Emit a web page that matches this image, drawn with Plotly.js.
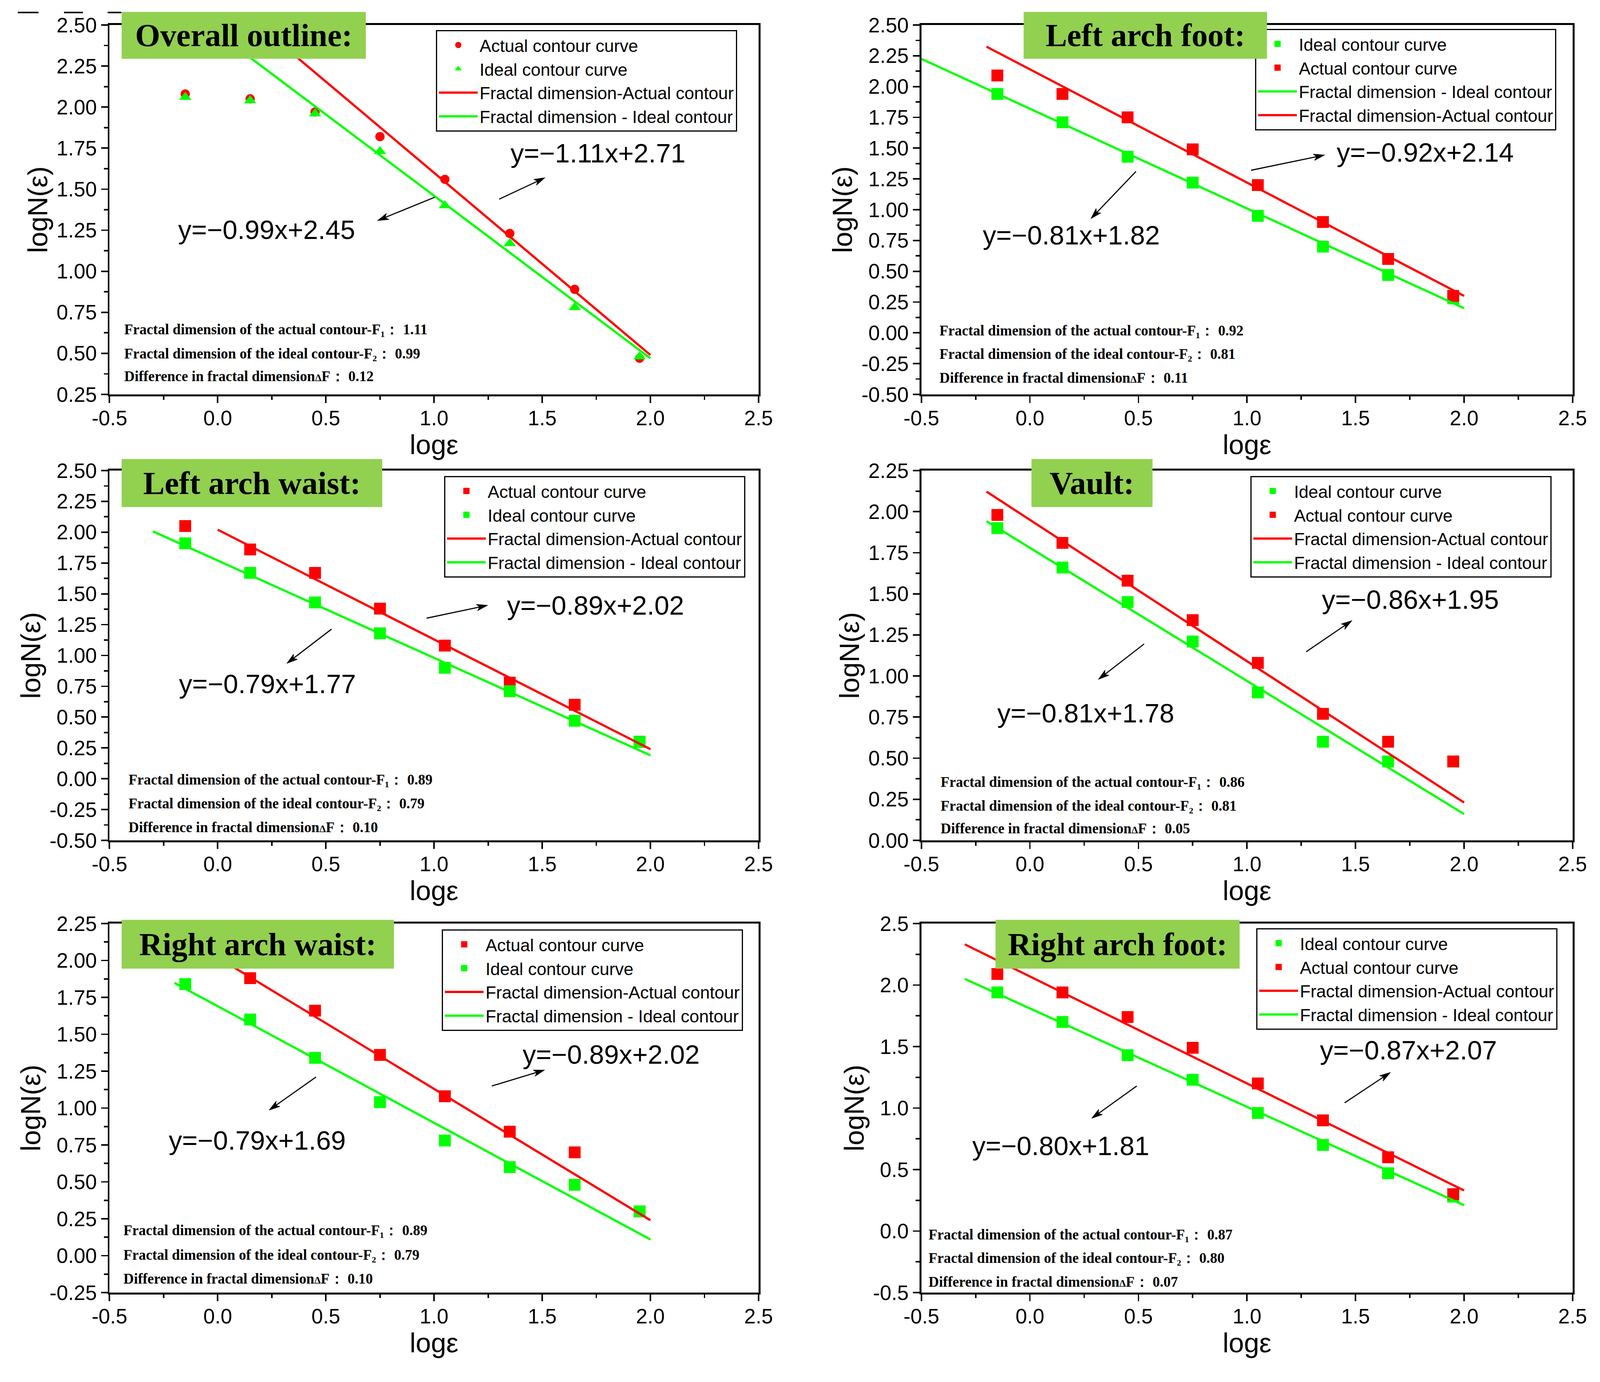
<!DOCTYPE html>
<html><head><meta charset="utf-8">
<script src="https://cdn.plot.ly/plotly-3.0.1.min.js"></script>
<style>html,body{margin:0;padding:0;background:#fff;overflow:hidden}</style>
</head><body>
<div id="chart"></div>
<script>
// ---------------- DATA ----------------
const logEps = [-0.15, 0.15, 0.45, 0.75, 1.05, 1.35, 1.65, 1.95];
const panelTitles = ["Overall outline:", "Left arch foot:", "Left arch waist:", "Vault:", "Right arch waist:", "Right arch foot:"];

const actualOverall    = [2.08, 2.05, 1.97, 1.82, 1.56, 1.23, 0.89, 0.47];
const idealOverall     = [2.06, 2.04, 1.96, 1.73, 1.40, 1.17, 0.78, 0.48];
const actualLeftFoot   = [2.09, 1.94, 1.75, 1.49, 1.20, 0.90, 0.60, 0.30];
const idealLeftFoot    = [1.94, 1.71, 1.43, 1.22, 0.95, 0.70, 0.47, 0.28];
const actualLeftWaist  = [2.05, 1.86, 1.67, 1.38, 1.08, 0.78, 0.60, 0.30];
const idealLeftWaist   = [1.91, 1.67, 1.43, 1.18, 0.90, 0.71, 0.47, 0.30];
const actualVault      = [1.98, 1.81, 1.58, 1.34, 1.08, 0.77, 0.60, 0.48];
const idealVault       = [1.90, 1.66, 1.45, 1.21, 0.90, 0.60, 0.48, 0.48];
const actualRightWaist = [2.10, 1.88, 1.66, 1.36, 1.08, 0.84, 0.70, 0.30];
const idealRightWaist  = [1.84, 1.60, 1.34, 1.04, 0.78, 0.60, 0.48, 0.30];
const actualRightFoot  = [2.09, 1.94, 1.74, 1.49, 1.20, 0.90, 0.60, 0.30];
const idealRightFoot   = [1.94, 1.70, 1.43, 1.23, 0.96, 0.70, 0.47, 0.28];

// fitted lines y = slope*x + intercept
const actualSlope     = [-1.11, -0.92, -0.89, -0.86, -0.89, -0.87];
const actualIntercept = [ 2.71,  2.14,  2.02,  1.95,  2.02,  2.07];
const idealSlope      = [-0.99, -0.81, -0.79, -0.81, -0.79, -0.80];
const idealIntercept  = [ 2.45,  1.82,  1.77,  1.78,  1.69,  1.81];
const actualFitFrom   = [0.19, -0.2, 0.0, -0.2, -0.2, -0.3];
const idealFitFrom    = [-0.05, -0.5, -0.3, -0.2, -0.2, -0.3];
const fitTo           = [2.0, 2.0, 2.0, 2.0, 2.0, 2.0];

const F1 = ["1.11", "0.92", "0.89", "0.86", "0.89", "0.87"];
const F2 = ["0.99", "0.81", "0.79", "0.81", "0.79", "0.80"];
const dF = ["0.12", "0.11", "0.10", "0.05", "0.10", "0.07"];

const xTickVals = [-0.5, 0, 0.5, 1, 1.5, 2, 2.5];
const xTickText = ["-0.5", "0.0", "0.5", "1.0", "1.5", "2.0", "2.5"];
const yTickVals1 = [0.25, 0.5, 0.75, 1, 1.25, 1.5, 1.75, 2, 2.25, 2.5];
const yTickText1 = ["0.25", "0.50", "0.75", "1.00", "1.25", "1.50", "1.75", "2.00", "2.25", "2.50"];
const yTickVals2 = [-0.5, -0.25, 0, 0.25, 0.5, 0.75, 1, 1.25, 1.5, 1.75, 2, 2.25, 2.5];
const yTickText2 = ["-0.50", "-0.25", "0.00", "0.25", "0.50", "0.75", "1.00", "1.25", "1.50", "1.75", "2.00", "2.25", "2.50"];
const yTickVals4 = [0, 0.25, 0.5, 0.75, 1, 1.25, 1.5, 1.75, 2, 2.25];
const yTickText4 = ["0.00", "0.25", "0.50", "0.75", "1.00", "1.25", "1.50", "1.75", "2.00", "2.25"];
const yTickVals5 = [-0.25, 0, 0.25, 0.5, 0.75, 1, 1.25, 1.5, 1.75, 2, 2.25];
const yTickText5 = ["-0.25", "0.00", "0.25", "0.50", "0.75", "1.00", "1.25", "1.50", "1.75", "2.00", "2.25"];
const yTickVals6 = [-0.5, 0, 0.5, 1, 1.5, 2, 2.5];
const yTickText6 = ["-0.5", "0.0", "0.5", "1.0", "1.5", "2.0", "2.5"];

const legendActual = "Actual contour curve";
const legendIdeal = "Ideal contour curve";
const legendFitActual = "Fractal dimension-Actual contour";
const legendFitIdeal = "Fractal dimension - Ideal contour";

// ---------------- BUILD ----------------
const REF_W = 4324, REF_H = 3539;
const W = window.innerWidth || REF_W, H = window.innerHeight || REF_H;
const kx = W / REF_W, ky = H / REF_H, k = Math.min(kx, ky);
document.getElementById("chart").style.width = W + "px";
document.getElementById("chart").style.height = H + "px";
const px = v => v / REF_W;
const py = v => 1 - v / REF_H;
const S = v => Math.max(1, v * k);
const SANS = "Liberation Sans, Arial, sans-serif";
const SERIF = "Liberation Serif, Times New Roman, serif";
const RED = "#FF0000", GREEN = "#00FF00";

const actualSeries = [actualOverall, actualLeftFoot, actualLeftWaist, actualVault, actualRightWaist, actualRightFoot];
const idealSeries = [idealOverall, idealLeftFoot, idealLeftWaist, idealVault, idealRightWaist, idealRightFoot];
const yTicks = [[yTickVals1, yTickText1], [yTickVals2, yTickText2], [yTickVals2, yTickText2], [yTickVals4, yTickText4], [yTickVals5, yTickText5], [yTickVals6, yTickText6]];
const yMinorStep = [0.125, 0.125, 0.125, 0.125, 0.125, 0.25];

const idealFirst = [false, true, false, true, false, true];
const idealLineFirst = [false, true, false, false, false, false];

// layout geometry (pixels in the 4324x3539 reference canvas)
const colX = [[296, 2050], [2490, 4250]];
const rowY = [[64, 1010], [1205, 2152], [2365, 3310]];
const titleBox = [[328, 30, 659, 119], [2766, 30, 657, 119], [328, 1175, 703, 122], [2787, 1175, 326, 122], [328, 2355, 735, 124], [2690, 2355, 659, 124]];
const legendPos = [[1178, 77], [3392, 74], [1200, 1219], [3379, 1219], [1194, 2380], [3395, 2377]];
const infoPos = [[334, 844, 905, 963], [2537, 847, 907, 968], [345, 1997, 2057, 2118], [2540, 2002, 2063, 2121], [331, 3150, 3213, 3274], [2507, 3161, 3221, 3282]];
const eqPos = [[[1616, 392], [720, 588]], [[3852, 390], [2895, 602]], [[1609, 1550], [723, 1751]], [[3811, 1535], [2934, 1826]], [[1652, 2700], [695, 2920]], [[3806, 2689], [2867, 2934]]];
const arrowPos = [
  [[1349, 510, 1473, 455], [1175, 505, 1020, 565]],
  [[3381, 436, 3580, 397], [3070, 439, 2948, 560]],
  [[1153, 1583, 1318, 1550], [896, 1611, 775, 1699]],
  [[3530, 1669, 3654, 1589], [3092, 1649, 2968, 1740]],
  [[1329, 2781, 1472, 2740], [854, 2758, 727, 2843]],
  [[3634, 2824, 3758, 2746], [3072, 2781, 2950, 2864]]
];

const traces = [];
const layout = {
  width: W, height: H, autosize: false,
  margin: {l: 0, r: 0, t: 0, b: 0},
  paper_bgcolor: "#fff", plot_bgcolor: "#fff",
  font: {family: SANS, color: "#000"},
  showlegend: true,
  annotations: [], shapes: []
};

function fmtEq(s, b) {
  const sl = (s < 0 ? "\u2212" : "") + Math.abs(s).toFixed(2);
  return "y=" + sl + "x+" + b.toFixed(2);
}

// arrow drawn as a line plus a filled head (in screen pixels -> paper)
function addArrow(tx, ty, hx, hy) {
  const TX = tx * kx, TY = ty * ky, HX = hx * kx, HY = hy * ky;
  const dx = HX - TX, dy = HY - TY, len = Math.hypot(dx, dy);
  const ux = dx / len, uy = dy / len, nx = -uy, ny = ux;
  const L = 30 * k, Wd = 9 * k;
  const BX = HX - ux * L, BY = HY - uy * L;
  const P = (X, Y) => (X / W).toFixed(5) + "," + (1 - Y / H).toFixed(5);
  layout.shapes.push({type: "line", xref: "paper", yref: "paper",
    x0: TX / W, y0: 1 - TY / H, x1: (HX - ux * L * 0.6) / W, y1: 1 - (HY - uy * L * 0.6) / H,
    line: {color: "#000", width: S(3)}});
  layout.shapes.push({type: "path", xref: "paper", yref: "paper",
    path: "M" + P(HX, HY) + " L" + P(BX + nx * Wd, BY + ny * Wd) + " L" + P(BX + ux * L * 0.25, BY + uy * L * 0.25) + " L" + P(BX - nx * Wd, BY - ny * Wd) + " Z",
    fillcolor: "#000", line: {color: "#000", width: S(1)}});
}

for (let i = 0; i < 6; i++) {
  const sfx = i === 0 ? "" : String(i + 1);
  const xa = "x" + sfx, ya = "y" + sfx, lg = "legend" + sfx;
  const col = i % 2, row = Math.floor(i / 2);
  const sym = i === 0 ? ["circle", "triangle-up"] : ["square", "square"];
  const msz = i === 0 ? [S(25), S(29)] : [S(32), S(32)];

  const tA = {x: logEps, y: actualSeries[i], type: "scatter", mode: "markers", name: legendActual,
    marker: {symbol: sym[0], size: msz[0], color: RED}, xaxis: xa, yaxis: ya, legend: lg, cliponaxis: false};
  const tI = {x: logEps, y: idealSeries[i], type: "scatter", mode: "markers", name: legendIdeal,
    marker: {symbol: sym[1], size: msz[1], color: GREEN}, xaxis: xa, yaxis: ya, legend: lg, cliponaxis: false};
  const axA = [actualFitFrom[i], fitTo[i]];
  const axI = [idealFitFrom[i], fitTo[i]];
  const lA = {x: axA, y: axA.map(v => actualSlope[i] * v + actualIntercept[i]), type: "scatter", mode: "lines",
    name: legendFitActual, line: {color: RED, width: S(6)}, xaxis: xa, yaxis: ya, legend: lg};
  const lI = {x: axI, y: axI.map(v => idealSlope[i] * v + idealIntercept[i]), type: "scatter", mode: "lines",
    name: legendFitIdeal, line: {color: GREEN, width: S(6)}, xaxis: xa, yaxis: ya, legend: lg};

  const markerPair = idealFirst[i] ? [tI, tA] : [tA, tI];
  const linePair = idealLineFirst[i] ? [lI, lA] : [lA, lI];
  traces.push(markerPair[0], markerPair[1], linePair[0], linePair[1]);

  const yr = [yTicks[i][0][0], yTicks[i][0][yTicks[i][0].length - 1]];
  const common = {
    ticks: "outside", ticklen: S(18), tickwidth: S(4), tickcolor: "#000",
    showline: true, linewidth: S(5), linecolor: "#000", mirror: true,
    showgrid: false, zeroline: false,
    tickfont: {family: SANS, size: S(56), color: "#000"}
  };
  layout["xaxis" + sfx] = Object.assign({}, common, {
    domain: [px(colX[col][0]), px(colX[col][1])],
    range: [-0.5, 2.5], tickmode: "array", tickvals: xTickVals, ticktext: xTickText,
    minor: {ticks: "outside", ticklen: S(10), tickwidth: S(4), tickcolor: "#000", tickmode: "linear", tick0: -0.5, dtick: 0.25},
    ticklabelstandoff: -Math.round(6 * k),
    anchor: ya,
    title: {text: "log\u03b5", font: {family: SANS, size: S(74), color: "#000"}, standoff: 0}
  });
  layout["yaxis" + sfx] = Object.assign({}, common, {
    domain: [py(rowY[row][1]), py(rowY[row][0])],
    range: yr, tickmode: "array", tickvals: yTicks[i][0], ticktext: yTicks[i][1],
    minor: {ticks: "outside", ticklen: S(10), tickwidth: S(4), tickcolor: "#000", tickmode: "linear", tick0: yr[0], dtick: yMinorStep[i]},
    anchor: xa,
    title: {text: "logN(\u03b5)", font: {family: SANS, size: S(74), color: "#000"}, standoff: S(2)}
  });

  layout[lg] = {
    x: px(legendPos[i][0]), y: py(legendPos[i][1]), xref: "paper", yref: "paper",
    xanchor: "left", yanchor: "top",
    bgcolor: "#fff", bordercolor: "#000", borderwidth: S(3),
    font: {family: SANS, size: S(47), color: "#000"},
    itemwidth: Math.max(30, Math.round(104 * k)), tracegroupgap: 0, traceorder: "normal"
  };

  // panel title box
  const tb = titleBox[i];
  layout.annotations.push({
    xref: "paper", yref: "paper", x: px(tb[0]), y: py(tb[1]), xanchor: "left", yanchor: "top",
    width: tb[2] * kx, height: tb[3] * ky, bgcolor: "#92D050", borderpad: 0, showarrow: false, align: "center", valign: "middle",
    text: "<b>" + panelTitles[i] + "</b>", font: {family: SERIF, size: S(87), color: "#000"}
  });

  // fractal dimension info (unicode subscripts, small delta)
  const ip = infoPos[i];
  const deltaSize = Math.round(S(27));
  const infoLines = [
    "<b>Fractal dimension of the actual contour-F\u2081\uff1a " + F1[i] + "</b>",
    "<b>Fractal dimension of the ideal contour-F\u2082\uff1a " + F2[i] + "</b>",
    "<b>Difference in fractal dimension<span style=\"font-size:" + deltaSize + "px\">\u0394</span>F\uff1a " + dF[i] + "</b>"
  ];
  for (let j = 0; j < 3; j++) {
    layout.annotations.push({
      xref: "paper", yref: "paper", x: px(ip[0]), y: py(ip[j + 1]), xanchor: "left", yanchor: "middle",
      showarrow: false, text: infoLines[j], font: {family: SERIF, size: S(39), color: "#000"}
    });
  }

  // equations
  const eqs = [fmtEq(actualSlope[i], actualIntercept[i]), fmtEq(idealSlope[i], idealIntercept[i])];
  for (let j = 0; j < 2; j++) {
    layout.annotations.push({
      xref: "paper", yref: "paper", x: px(eqPos[i][j][0]), y: py(eqPos[i][j][1]), xanchor: "center", yanchor: "middle",
      showarrow: false, text: eqs[j], font: {family: SANS, size: S(72), color: "#000"}
    });
  }

  // arrows
  arrowPos[i].forEach(a => addArrow(a[0], a[1], a[2], a[3]));
}

// small dash marks at the top-left corner of the source figure
[[48, 104], [173, 224], [291, 328]].forEach(s => {
  layout.shapes.push({type: "line", xref: "paper", yref: "paper", x0: px(s[0]), x1: px(s[1]), y0: py(32), y1: py(32),
    line: {color: "#000", width: S(4)}});
});

Plotly.newPlot("chart", traces, layout, {displayModeBar: false, staticPlot: true});
</script>
</body></html>
